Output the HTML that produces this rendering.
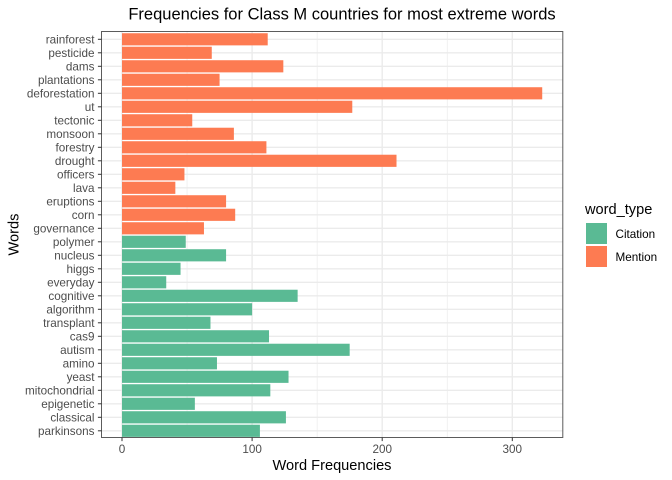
<!DOCTYPE html>
<html>
<head>
<meta charset="utf-8">
<title>Frequencies for Class M countries for most extreme words</title>
<style>
html,body{margin:0;padding:0;background:#fff;width:672px;height:480px;overflow:hidden}
svg{display:block;font-family:"Liberation Sans",Arial,sans-serif}
</style>
</head>
<body>
<svg id="chart" xmlns="http://www.w3.org/2000/svg" width="672" height="480" viewBox="0 0 672 480">
<rect x="0" y="0" width="672" height="480" fill="#ffffff"/>
<g id="grid"></g>
<g id="bars"></g>
<rect x="101.5" y="31.5" width="461.3" height="406" fill="none" stroke="#333333" stroke-width="1" opacity="0.8"/>
<g id="yaxis"></g>
<g id="xaxis"></g>
<text x="342" y="19.5" text-anchor="middle" font-size="16.5" fill="#000">Frequencies for Class M countries for most extreme words</text>
<text x="332" y="470" text-anchor="middle" font-size="14.6" fill="#000">Word Frequencies</text>
<text transform="translate(18.5,234.5) rotate(-90)" text-anchor="middle" font-size="14.6" fill="#000">Words</text>
<g>
<text x="585" y="214" font-size="14.6" fill="#000">word_type</text>
<rect x="586" y="223" width="21" height="21" fill="#5ABA94"/>
<text x="615.5" y="238" font-size="11.7" fill="#000">Citation</text>
<rect x="586" y="246" width="21" height="21" fill="#FD7B52"/>
<text x="615.5" y="261" font-size="11.7" fill="#000">Mention</text>
</g>
</svg>
<script>
const words = ["rainforest","pesticide","dams","plantations","deforestation","ut","tectonic","monsoon","forestry","drought","officers","lava","eruptions","corn","governance","polymer","nucleus","higgs","everyday","cognitive","algorithm","transplant","cas9","autism","amino","yeast","mitochondrial","epigenetic","classical","parkinsons"];
const frequencies = [112,69,124,75,323,177,54,86,111,211,48,41,80,87,63,49,80,45,34,135,100,68,113,175,73,128,114,56,126,106];
const wordTypes = ["Mention","Mention","Mention","Mention","Mention","Mention","Mention","Mention","Mention","Mention","Mention","Mention","Mention","Mention","Mention","Citation","Citation","Citation","Citation","Citation","Citation","Citation","Citation","Citation","Citation","Citation","Citation","Citation","Citation","Citation"];
const xTicks = [0,100,200,300];
const xMinorTicks = [50,150,250];

const NS = "http://www.w3.org/2000/svg";
const panel = {left:101.5, right:562.5, top:31.5, bottom:437.5};
const colorOf = {Citation:"#5ABA94", Mention:"#FD7B52"};
const step = 13.5;
const barH = step * 0.9;
function xPos(v){ return 122 + v * 1.301; }
function yPos(i){ return 39.3 + i * step; }
function make(tag, attrs, parent){
  const el = document.createElementNS(NS, tag);
  for (const k in attrs) el.setAttribute(k, attrs[k]);
  parent.appendChild(el);
  return el;
}
const gridG = document.getElementById("grid");
const barsG = document.getElementById("bars");
const yG = document.getElementById("yaxis");
const xG = document.getElementById("xaxis");

xMinorTicks.forEach(function(t){
  const l = make("line",{x1:xPos(t),x2:xPos(t),y1:panel.top,y2:panel.bottom,stroke:"#ebebeb","stroke-width":0.7},gridG);
  
  
});
xTicks.forEach(function(t){
  const l = make("line",{x1:xPos(t),x2:xPos(t),y1:panel.top,y2:panel.bottom,stroke:"#ebebeb","stroke-width":1.4},gridG);
  
  
  const tick = make("line",{x1:xPos(t),x2:xPos(t),y1:panel.bottom,y2:panel.bottom+3.6,stroke:"#333333","stroke-width":1},xG);
  
  
  const lab = make("text",{x:xPos(t),y:453,"text-anchor":"middle","font-size":11.7,fill:"#4d4d4d"},xG);
  lab.textContent = t;
  
  
});
words.forEach(function(w,i){
  const y = yPos(i);
  const g = make("line",{x1:panel.left,x2:panel.right,y1:y,y2:y,stroke:"#ebebeb","stroke-width":1.4},gridG);
  
  
  const r = make("rect",{x:xPos(0),y:y-barH/2,width:xPos(frequencies[i])-xPos(0),height:barH,fill:colorOf[wordTypes[i]]},barsG);
  
  
  const tick = make("line",{x1:panel.left-3.6,x2:panel.left,y1:y,y2:y,stroke:"#333333","stroke-width":1},yG);
  
  
  const lab = make("text",{x:94.5,y:y+4,"text-anchor":"end","font-size":11.7,fill:"#4d4d4d"},yG);
  lab.textContent = w;
  
  
});
</script>
</body>
</html>
